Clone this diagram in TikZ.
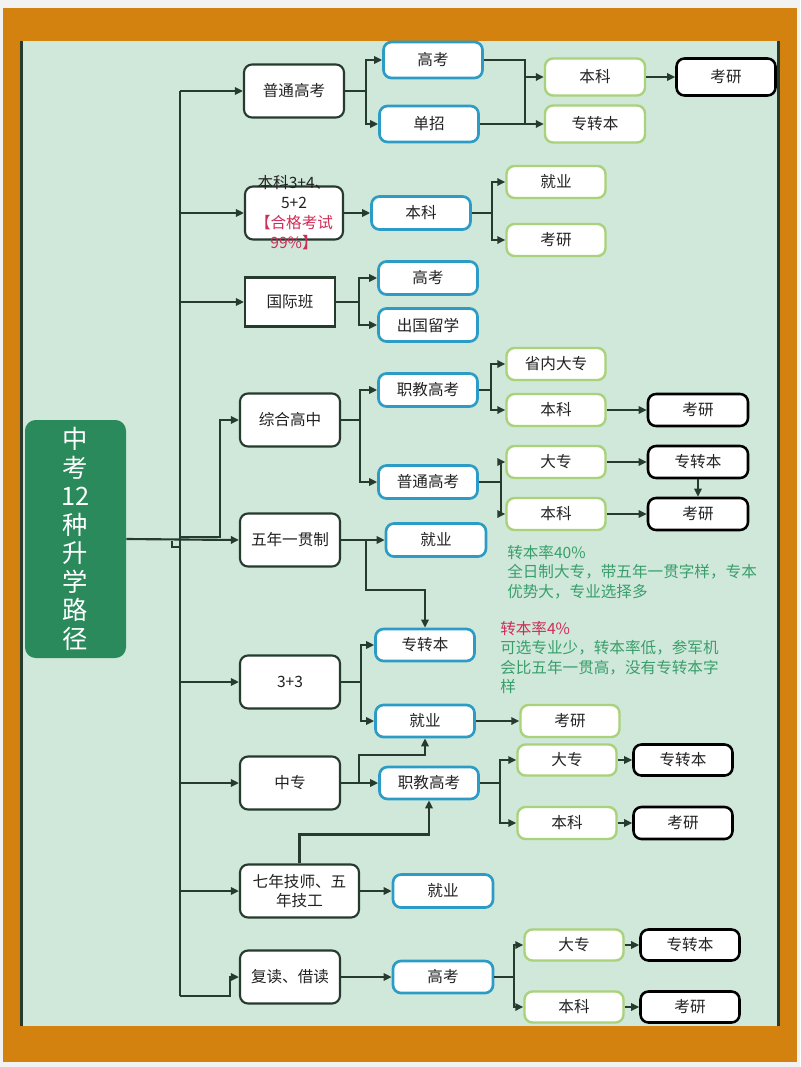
\documentclass[tikz,border=0pt]{standalone}
\usepackage{fontspec}
\setmainfont{Noto Sans CJK SC}
\usetikzlibrary{positioning,arrows.meta}
\definecolor{frameorange}{HTML}{D4820F}
\definecolor{bggreen}{HTML}{CFE8DA}
\definecolor{titlegreen}{HTML}{2B8A5B}
\definecolor{edgeblue}{HTML}{2C9CC6}
\definecolor{edgegreen}{HTML}{A9D27A}
\definecolor{linedark}{HTML}{263A2E}
\definecolor{notegreen}{HTML}{3A9E6C}
\definecolor{notered}{HTML}{D02C58}
\definecolor{textgray}{HTML}{222222}

\tikzset{
	boxbase/.style={fill=white,inner sep=0pt,text=textgray,font=\fontsize{11.7}{14.5}\selectfont},
	lvone/.style={boxbase,draw=linedark,line width=1.6pt,rounded corners=6pt,minimum width=75pt,minimum height=39.75pt},
	blubox/.style={boxbase,draw=edgeblue,line width=2pt,rounded corners=6pt,minimum width=74.25pt,minimum height=24.75pt},
	grnbox/.style={boxbase,draw=edgegreen,line width=1.8pt,rounded corners=6pt,minimum width=74.25pt,minimum height=24pt},
	blkbox/.style={boxbase,draw=black,line width=1.9pt,rounded corners=6pt,minimum width=75pt,minimum height=24pt},
	conn/.style={draw=linedark,line width=1.6pt},
	arr/.style={conn,-{Triangle[length=6pt,width=5.5pt]}},
	notetext/.style={anchor=north west,inner sep=0pt,align=left,text=notegreen,font=\fontsize{11.7}{14.6}\selectfont}
}

\begin{document}
\begin{tikzpicture}[x=0.75pt,y=-0.75pt]

	\useasboundingbox (0,0) rectangle (800,1067);
	\fill[white!95!black] (0,0) rectangle (800,1067);
	\fill[frameorange] (3,8) rectangle (797,1062);
	\fill[bggreen] (22,41) rectangle (779,1026);
	\draw[linedark,line width=1.8pt] (21.5,41) -- (21.5,1026);
	\draw[linedark,line width=1.8pt] (778.5,41) -- (778.5,1026);

	\node[fill=titlegreen,rounded corners=8pt,minimum width=75.75pt,minimum height=178.5pt,
		text=white,align=center,font=\fontsize{19}{21.4}\selectfont] (TT)
	at (75.5,539) {中\\考\\12\\种\\升\\学\\路\\径};

	\node[lvone] (PT) at (294,91) {普通高考};
	\node[lvone,minimum width=73.5pt,
		label={[align=center,text=textgray,font=\fontsize{11.7}{15}\selectfont]center:{本科3+4、\\5+2\\\textcolor{notered}{【合格考试}\\\textcolor{notered}{99\%】}}}] (KB)
	at (294,213) {};
	\node[lvone,sharp corners,minimum width=67.5pt,minimum height=36.75pt] (GJ) at (290,302) {国际班};
	\node[lvone] (ZH) at (290,420) {综合高中};
	\node[lvone] (WN) at (290,540) {五年一贯制};
	\node[lvone] (SS) at (290,682) {3+3};
	\node[lvone] (ZZ) at (290,783) {中专};
	\node[lvone,minimum width=89.25pt,align=center] (QN) at (299.5,891) {七年技师、五\\年技工};
	\node[lvone] (FD) at (290,977) {复读、借读};

	\node[blubox,minimum height=27pt] (GK1) at (433,60) {高考};
	\node[blubox,minimum height=27pt] (DZ1) at (429,124) {单招};
	\node[grnbox,minimum width=75pt,minimum height=27.75pt] (BK1) at (595,77) {本科};
	\node[grnbox,minimum width=75pt,minimum height=27.75pt] (ZB1) at (595,124) {专转本};
	\node[blkbox,minimum width=74.25pt,minimum height=27.75pt] (KY1) at (726,77) {考研};

	\node[blubox] (BK2) at (421,213) {本科};
	\node[grnbox] (JY2) at (556,182) {就业};
	\node[grnbox] (KY2) at (556,240) {考研};

	\node[blubox] (GK3) at (428,278) {高考};
	\node[blubox] (CG3) at (428,325) {出国留学};

	\node[blubox] (ZJ4) at (428,390) {职教高考};
	\node[blubox] (PT4) at (428,482) {普通高考};
	\node[grnbox] (SN4) at (556,364) {省内大专};
	\node[grnbox] (BK4) at (556,410) {本科};
	\node[blkbox] (KY4) at (698,410) {考研};
	\node[grnbox] (DZ5) at (556,462) {大专};
	\node[grnbox] (BK5) at (556,514) {本科};
	\node[blkbox] (ZB5) at (698,462) {专转本};
	\node[blkbox] (KY5) at (698,514) {考研};

	\node[blubox,minimum width=75pt] (JY6) at (436,540) {就业};
	\node[blubox,minimum height=24pt] (ZB7) at (425,645) {专转本};
	\node[blubox,minimum height=24pt] (JY7) at (425,721) {就业};
	\node[grnbox] (KY7) at (570,721) {考研};

	\node[blubox,minimum height=24pt] (ZJ8) at (429,783) {职教高考};
	\node[grnbox,minimum height=23.25pt] (DZ8) at (567,760) {大专};
	\node[grnbox] (BK8) at (567,823) {本科};
	\node[blkbox,minimum width=74.25pt,minimum height=23.25pt] (ZB8) at (683,760) {专转本};
	\node[blkbox,minimum width=74.25pt] (KY8) at (683,823) {考研};

	\node[blubox,minimum width=75pt] (JY9) at (443,891) {就业};

	\node[blubox,minimum width=75pt,minimum height=24pt] (GK10) at (443,977) {高考};
	\node[grnbox,minimum height=23.25pt] (DZ10) at (574,945) {大专};
	\node[grnbox,minimum height=23.25pt] (BK10) at (574,1007) {本科};
	\node[blkbox,minimum width=74.25pt,minimum height=23.25pt] (ZB10) at (690,945) {专转本};
	\node[blkbox,minimum width=74.25pt,minimum height=23.25pt] (KY10) at (690,1007) {考研};

	\node[notetext] (N1) at (507,545)
	{转本率40\%\\全日制大专，带五年一贯字样，专本\\优势大，专业选择多};
	\node[notetext] (N2) at (500,621)
	{\textcolor{notered}{转本率4\%}\\可选专业少，转本率低，参军机\\会比五年一贯高，没有专转本字\\样};

	\coordinate (TR) at (180,91);
	\coordinate (TB) at (180,996);
	\coordinate (ZF) at (180,537);
	\draw[conn] (TR) -- (TB);
	\draw[arr] (TB) -- ++(50,0) |- (FD.west);
	\draw[arr] (TR) -- (PT.west);
	\draw[arr] (TR |- KB.west) -- (KB.west);
	\draw[arr] (TR |- GJ.west) -- (GJ.west);
	\draw[arr] (TR |- SS.west) -- (SS.west);
	\draw[arr] (TR |- ZZ.west) -- (ZZ.west);
	\draw[arr] (TR |- QN.west) -- (QN.west);
	\draw[arr] (ZF) -- ++(40,0) |- (ZH.west);
	\draw[arr] (TT.east) -- (WN.west);
	\draw[conn] (172,541) -- (172,547) -- (180,547);

	\draw[arr] (PT.east) -- ++(21,0) |- (GK1.west);
	\draw[arr] (PT.east) -- ++(21,0) |- (DZ1.west);
	\draw[conn] (GK1.east) -| (525,124);
	\draw[arr] (DZ1.east) -- (ZB1.west);
	\draw[arr] (525,77) -- (BK1.west);
	\draw[arr] (BK1) -- (KY1);

	\draw[arr] (KB.east) -- (BK2.west);
	\draw[arr] (BK2.east) -- ++(20,0) |- (JY2.west);
	\draw[arr] (BK2.east) -- ++(20,0) |- (KY2.west);

	\draw[arr] (GJ.east) -- ++(23,0) |- (GK3.west);
	\draw[arr] (GJ.east) -- ++(23,0) |- (CG3.west);

	\draw[arr] (ZH.east) -- ++(19,0) |- (ZJ4.west);
	\draw[arr] (ZH.east) -- ++(19,0) |- (PT4.west);
	\draw[arr] (ZJ4.east) -- ++(12,0) |- (SN4.west);
	\draw[arr] (ZJ4.east) -- ++(12,0) |- (BK4.west);
	\draw[arr] (BK4) -- (KY4);
	\draw[arr] (PT4.east) -- ++(22,0) |- (DZ5.west);
	\draw[arr] (PT4.east) -- ++(22,0) |- (BK5.west);
	\draw[arr] (DZ5) -- (ZB5);
	\draw[arr] (BK5) -- (KY5);
	\draw[arr] (ZB5) -- (KY5);

	\draw[arr] (WN.east) -- (JY6.west);
	\draw[arr] (WN.east) -- ++(25,0) -- ++(0,50) -| (ZB7.north);

	\draw[arr] (SS.east) -- ++(20,0) |- (ZB7.west);
	\draw[arr] (SS.east) -- ++(20,0) |- (JY7.west);
	\draw[arr] (JY7) -- (KY7);

	\draw[arr] (ZZ.east) -- (ZJ8.west);
	\draw[arr] (ZZ.east) -- ++(18,0) -- ++(0,-28) -| (JY7.south);
	\draw[arr] (ZJ8.east) -- ++(20,0) |- (DZ8.west);
	\draw[arr] (ZJ8.east) -- ++(20,0) |- (BK8.west);
	\draw[arr] (DZ8) -- (ZB8);
	\draw[arr] (BK8) -- (KY8);

	\draw[arr] (QN.east) -- (JY9.west);
	\draw[arr] (QN.north) -- ++(0,-29) -| (ZJ8.south);

	\draw[arr] (FD.east) -- (GK10.west);
	\draw[arr] (GK10.east) -- ++(20,0) |- (DZ10.west);
	\draw[arr] (GK10.east) -- ++(20,0) |- (BK10.west);
	\draw[arr] (DZ10) -- (ZB10);
	\draw[arr] (BK10) -- (KY10);

\end{tikzpicture}
\end{document}
